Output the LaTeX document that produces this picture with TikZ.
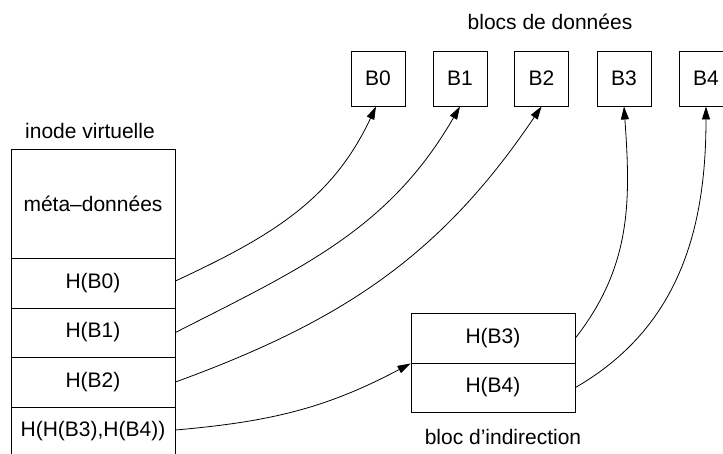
\documentclass[tikz,border=0pt]{standalone}
\usepackage{fontspec}
\setmainfont{Liberation Sans}
\usetikzlibrary{arrows.meta}
\begin{document}
\begin{tikzpicture}[x=1pt,y=-1pt,
  every node/.style={font=\fontsize{21pt}{25pt}\selectfont, inner sep=0pt},
  cell/.style={draw, line width=0.9pt, minimum width=164pt},
  blk/.style={draw, line width=0.9pt, minimum width=54pt, minimum height=55pt},
  lbl/.style={},
  conn/.style={line width=0.8pt, -{Triangle[length=13pt,width=8pt]}}]
\useasboundingbox (0,0) rectangle (723,453);
\clip (0,0) rectangle (723,453);
% data blocks
\node[lbl] (tdata) at (550,22) {blocs de données};
\node[blk] (B0) at (378,78.5) {B0};
\node[blk] (B1) at (460,78.5) {B1};
\node[blk] (B2) at (541.5,78.5) {B2};
\node[blk] (B3) at (624,78.5) {B3};
\node[blk] (B4) at (706,78.5) {B4};
% inode
\node[lbl] (tinode) at (90,131) {inode virtuelle};
\node[cell, minimum height=109pt] (meta) at (93,203.5) {méta\textendash données};
\node[cell, minimum height=50pt] (hb0) at (93,283) {H(B0)};
\node[cell, minimum height=49pt] (hb1) at (93,332.5) {H(B1)};
\node[cell, minimum height=50pt] (hb2) at (93,382) {H(B2)};
\node[cell, minimum height=49pt] (hh) at (93,431.5) {H(H(B3),H(B4))};
% indirection block
\node[cell, minimum height=50pt] (ib3) at (493,338) {H(B3)};
\node[cell, minimum height=49pt] (ib4) at (493,387.5) {H(B4)};
\node[lbl] (tind) at (503,437) {bloc d’indirection};
% connectors
\draw[conn] ([yshift=2pt]hb0.east) to[out=25, in=-115] ([xshift=-2pt]B0.south);
\draw[conn] (hb1.east) to[out=27, in=-120] (B1.south);
\draw[conn] (hb2.east) to[out=20, in=-124] (B2.south);
\draw[conn] ([yshift=1.5pt]hh.east) to[out=5, in=-152] (ib3.south west);
\draw[conn] (ib3.east) to[out=52, in=-86] (B3.south);
\draw[conn] (ib4.east) to[out=30, in=-90] (B4.south);
\end{tikzpicture}
\end{document}
